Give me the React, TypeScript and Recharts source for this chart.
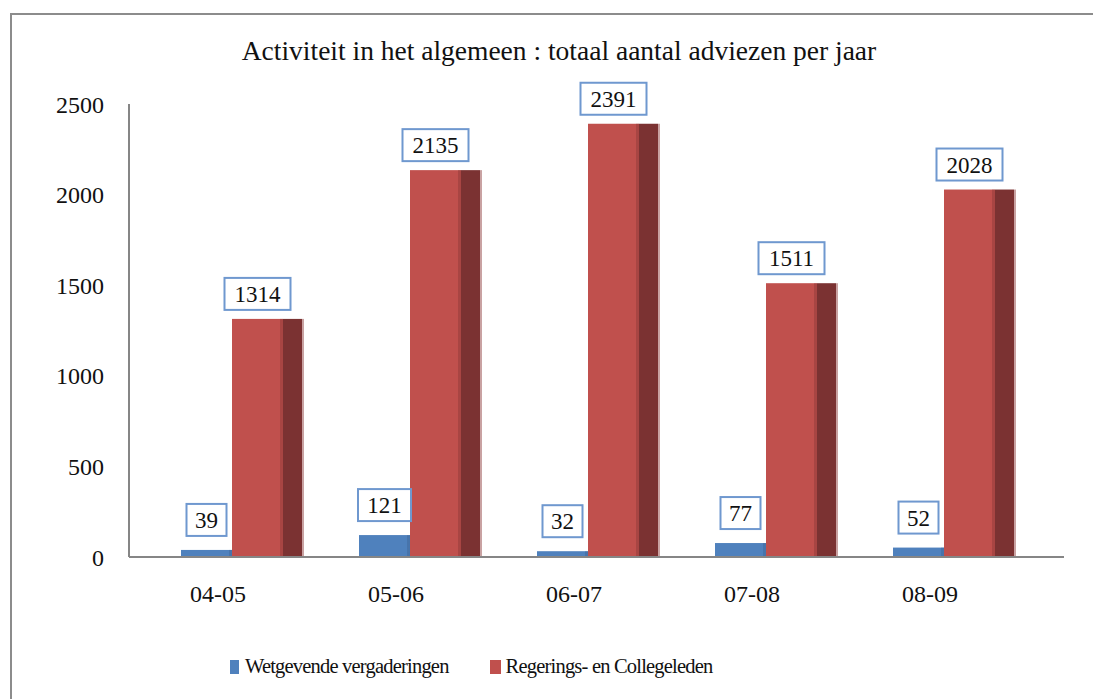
import React from 'react';
import { BarChart, Bar, XAxis, YAxis, LabelList } from 'recharts';

const years = ['04-05', '05-06', '06-07', '07-08', '08-09'];
const wetgevend = [39, 121, 32, 77, 52];
const regering = [1314, 2135, 2391, 1511, 2028];
const yTicks = [0, 500, 1000, 1500, 2000, 2500];

const data = years.map((y, i) => ({ year: y, wet: wetgevend[i], reg: regering[i] }));

const FONT = '"Liberation Serif", "DejaVu Serif", serif';
const SHIFT = 14;
const DEPTH = 19;

const makeShape = (front: string, side: string, edge: string) => (props: any) => {
  const { x, y, width, height } = props;
  if (height == null || height <= 0) return null;
  const fx = x + SHIFT;
  return (
    <g>
      <rect x={fx + width} y={y} width={DEPTH} height={height} fill={side} />
      <rect x={fx + width + DEPTH} y={y} width={2} height={height} fill={edge} />
      <rect x={fx} y={y} width={width} height={height} fill={front} />
      <rect x={fx + width - 3} y={y} width={3} height={height} fill={side} opacity={0.35} />
    </g>
  );
};

const makeLabel = (gap: number) => (props: any) => {
  const { x, y, width, value } = props;
  const txt = String(value);
  const w = 14 + txt.length * 13;
  const h = 32;
  const cx = x + SHIFT + width / 2;
  const bottom = y - gap;
  return (
    <g>
      <rect x={cx - w / 2} y={bottom - h} width={w} height={h} fill="#fff" stroke="#6f98cf" strokeWidth={2} />
      <text x={cx} y={bottom - 8} textAnchor="middle" fontFamily={FONT} fontSize={23} fill="#111">
        {txt}
      </text>
    </g>
  );
};

export default function App() {
  return (
    <div style={{ position: 'absolute', left: 0, top: 0, width: 1093, height: 699, overflow: 'hidden', background: '#fff' }}>
      <div style={{ position: 'absolute', left: 10, top: 13, width: 1120, height: 720, border: '2px solid #8c8c8c', boxSizing: 'border-box' }} />
      <div style={{ position: 'absolute', left: 0, top: 35, width: 1118, textAlign: 'center', fontFamily: FONT, fontSize: 27.5, lineHeight: 'normal', color: '#111', whiteSpace: 'nowrap' }}>
        Activiteit in het algemeen : totaal aantal adviezen per jaar
      </div>
      <div style={{ position: 'absolute', left: 0, top: 0 }}>
        <BarChart width={1093} height={699} data={data} margin={{ top: 104, right: 29, bottom: 82, left: 0 }} barGap={0}>
          <YAxis
            width={129}
            domain={[0, 2500]}
            ticks={yTicks}
            axisLine={{ stroke: '#868686', strokeWidth: 2 }}
            tickLine={false}
            tickSize={0}
            tickMargin={25}
            tick={{ fontFamily: FONT, fontSize: 24, fill: '#111' }}
          />
          <XAxis
            dataKey="year"
            height={60}
            padding={{ left: 0, right: 45 }}
            axisLine={{ stroke: '#868686', strokeWidth: 2 }}
            tickLine={false}
            tickSize={0}
            tickMargin={28}
            tick={{ fontFamily: FONT, fontSize: 24, fill: '#111' }}
          />
          <Bar dataKey="wet" barSize={51} isAnimationActive={false} shape={makeShape('#4f81bd', '#385d8a', '#a9bfdc')}>
            <LabelList dataKey="wet" content={makeLabel(14)} />
          </Bar>
          <Bar dataKey="reg" barSize={51} isAnimationActive={false} shape={makeShape('#c0504d', '#7b3232', '#c9a2a2')}>
            <LabelList dataKey="reg" content={makeLabel(9)} />
          </Bar>
        </BarChart>
      </div>
      <div style={{ position: 'absolute', left: 230, top: 655, display: 'flex', alignItems: 'center', fontFamily: FONT, fontSize: 20.5, letterSpacing: -0.8, color: '#111' }}>
        <span style={{ display: 'inline-block', width: 9, height: 14, background: '#4f81bd', marginRight: 6 }} />
        <span>Wetgevende vergaderingen</span>
        <span style={{ display: 'inline-block', width: 11, height: 14, background: '#c0504d', marginLeft: 41, marginRight: 5 }} />
        <span>Regerings- en Collegeleden</span>
      </div>
    </div>
  );
}
